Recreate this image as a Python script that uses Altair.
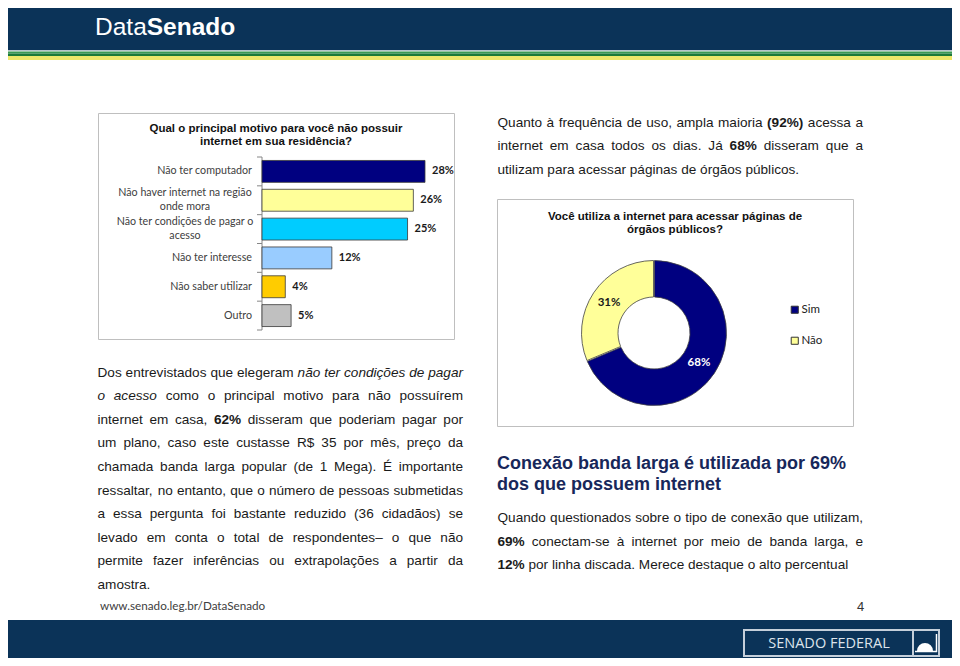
import altair as alt
import pandas as pd

# ---------------- data ----------------
reasons = [
    "Não ter computador",
    "Não haver internet na região\nonde mora",
    "Não ter condições de pagar o\nacesso",
    "Não ter interesse",
    "Não saber utilizar",
    "Outro",
]
reason_pct = [28, 26, 25, 12, 4, 5]

use_answers = ["Sim", "Não"]
use_pct = [68, 31]

# ---------------- styles ----------------
reason_colors = ["#000080", "#FFFF99", "#00CCFF", "#99CCFF", "#FFCC00", "#C0C0C0"]
answer_colors = ["#000080", "#FFFF99"]
NAVY = "#0B3358"
BODY = "#1a1a1a"
OFF = 8  # page margin


def P(v):
    return v - OFF


one = pd.DataFrame({"a": [0]})


def rect(x1, y1, x2, y2, **kw):
    return alt.Chart(one).mark_rect(**kw).encode(
        x=alt.value(P(x1)), x2=alt.value(P(x2)), y=alt.value(P(y1)), y2=alt.value(P(y2))
    )


# ---------------- Arial metrics for text layout ----------------
W_REG = {' ': 278, '!': 278, '$': 556, '%': 889, '(': 333, ')': 333, ',': 278, '-': 333,
         '.': 278, '/': 278, ':': 278, '?': 556, '–': 556, 'í': 278}
for d in "0123456789":
    W_REG[d] = 556
W_REG.update(dict(zip("abcdefghijklmnopqrstuvwxyz",
                      [556, 556, 500, 556, 556, 278, 556, 556, 222, 222, 500, 222, 833, 556, 556,
                       556, 556, 333, 500, 278, 556, 500, 722, 500, 500, 500])))
W_REG.update(dict(zip("ABCDEFGHIJKLMNOPQRSTUVWXYZ",
                      [667, 667, 722, 722, 667, 611, 778, 722, 278, 500, 667, 556, 833, 722, 778,
                       667, 778, 722, 667, 611, 722, 667, 944, 667, 667, 611])))
W_BOLD = {' ': 278, '%': 889, '(': 333, ')': 333, 'S': 667, 'D': 722}
for d in "0123456789":
    W_BOLD[d] = 556
W_BOLD.update(dict(zip("abcdefghijklmnopqrstuvwxyz",
                       [556, 611, 556, 611, 556, 333, 611, 611, 278, 278, 556, 278, 889, 611, 611,
                        611, 611, 389, 556, 333, 611, 556, 778, 556, 556, 500])))
ACC = {'à': 'a', 'á': 'a', 'â': 'a', 'ã': 'a', 'ç': 'c', 'é': 'e', 'ê': 'e', 'ó': 'o',
       'ô': 'o', 'õ': 'o', 'ú': 'u', 'É': 'E'}


def tw(s, size, bold=False):
    tab = W_BOLD if bold else W_REG
    tot = 0
    for ch in s:
        if ch not in tab:
            ch = ACC.get(ch, ch)
        tot += tab.get(ch, 556)
    return tot * size / 1000.0


rows = []


def parse(line):
    out = []
    for w in line.split(" "):
        if w.startswith("**") and w.endswith("**"):
            out.append((w[2:-2], "bold"))
        elif w.startswith("_") and w.endswith("_") and len(w) > 1:
            out.append((w[1:-1], "italic"))
        else:
            out.append((w, "normal"))
    return out


def add_par(x0, y0, step, width, lines, size=13.6, color=BODY):
    for k, line in enumerate(lines):
        toks = parse(line)
        last = k == len(lines) - 1
        ws = [tw(t, size, s == "bold") for t, s in toks]
        if last or len(toks) < 2:
            gap = tw(" ", size)
        else:
            gap = (width - sum(ws)) / (len(toks) - 1)
        x = x0
        for (t, s), w in zip(toks, ws):
            rows.append(dict(x=P(x), y=P(y0 + k * step), text=t, style=s, size=size, color=color))
            x += w + gap


add_par(497.5, 126.5, 23.6, 365.5, [
    "Quanto à frequência de uso, ampla maioria **(92%)** acessa a",
    "internet em casa todos os dias. Já **68%** disseram que a",
    "utilizam para acessar páginas de órgãos públicos.",
])
add_par(97.5, 376.5, 23.6, 365.5, [
    "Dos entrevistados que elegeram _não_ _ter_ _condições_ _de_ _pagar_",
    "_o_ _acesso_ como o principal motivo para não possuírem",
    "internet em casa, **62%** disseram que poderiam pagar por",
    "um plano, caso este custasse R$ 35 por mês, preço da",
    "chamada banda larga popular (de 1 Mega). É importante",
    "ressaltar, no entanto, que o número de pessoas submetidas",
    "a essa pergunta foi bastante reduzido (36 cidadãos) se",
    "levado em conta o total de respondentes– o que não",
    "permite fazer inferências ou extrapolações a partir da",
    "amostra.",
])
add_par(497.5, 522, 23.6, 365.5, [
    "Quando questionados sobre o tipo de conexão que utilizam,",
    "**69%** conectam-se à internet por meio de banda larga, e",
    "**12%** por linha discada. Merece destaque o alto percentual",
])
# heading
rows.append(dict(x=P(497), y=P(469.3), text="Conexão banda larga é utilizada por 69%", style="bold", size=18, color="#17275A"))
rows.append(dict(x=P(497), y=P(489.5), text="dos que possuem internet", style="bold", size=18, color="#17275A"))
# header brand
rows.append(dict(x=P(95), y=P(34.5), text="Data", style="normal", size=24.5, color="white"))
rows.append(dict(x=P(95) + tw("Data", 24.5), y=P(34.5), text="Senado", style="bold", size=24.5, color="white"))
# page number
rows.append(dict(x=P(857), y=P(611), text="4", style="normal", size=13, color="#333333"))

words = pd.DataFrame(rows)


def text_layer(style, **kw):
    return alt.Chart(words).transform_filter(alt.datum.style == style).mark_text(
        font="Liberation Sans", align="left", baseline="alphabetic", **kw
    ).encode(
        x=alt.X("x:Q", scale=None, axis=None),
        y=alt.Y("y:Q", scale=None, axis=None),
        text="text:N",
        size=alt.Size("size:Q", scale=None, legend=None),
        color=alt.Color("color:N", scale=None, legend=None),
    )


titles = pd.DataFrame({
    "x": [P(276), P(276), P(675), P(675)],
    "y": [P(131.5), P(145), P(219.5), P(232.5)],
    "text": ["Qual o principal motivo para você não possuir", "internet em sua residência?",
             "Você utiliza a internet para acessar páginas de", "órgãos públicos?"],
})
title_layer = alt.Chart(titles).mark_text(
    font="Liberation Sans", fontWeight="bold", fontSize=11.5, align="center",
    baseline="alphabetic", color="#111111"
).encode(x=alt.X("x:Q", scale=None, axis=None), y=alt.Y("y:Q", scale=None, axis=None), text="text:N")

# ---------------- bar chart ----------------
bars = pd.DataFrame({"cat": reasons, "pct": reason_pct})
bars["i"] = range(len(bars))
bars["y0"] = bars["i"] + 0.12
bars["y1"] = bars["i"] + 0.88
bars["ym"] = bars["i"] + 0.5
bars["label"] = [f"{v}%" for v in reason_pct]
bars["multi"] = bars["cat"].str.contains("\n")

xs = alt.Scale(domain=[0, max(reason_pct)], range=[P(262), P(425)])
ys = alt.Scale(domain=[0, len(reasons)], range=[P(157), P(330)])

bar_layer = alt.Chart(bars).mark_rect(stroke="#3a3a3a", strokeWidth=0.8).encode(
    x=alt.X("pct:Q", scale=xs, axis=None),
    x2=alt.datum(0),
    y=alt.Y("y0:Q", scale=ys, axis=None),
    y2="y1:Q",
    fill=alt.Fill("cat:N", scale=alt.Scale(domain=reasons, range=reason_colors), legend=None),
)
val_layer = alt.Chart(bars).mark_text(
    align="left", baseline="middle", dx=7, font="Lato", fontWeight="bold", fontSize=11, color="#1a1a1a"
).encode(x=alt.X("pct:Q", scale=xs, axis=None), y=alt.Y("ym:Q", scale=ys, axis=None), text="label:N")

lab_single = alt.Chart(bars[~bars["multi"]]).mark_text(
    align="right", baseline="middle", font="Lato", fontSize=10.7, color="#404040"
).encode(x=alt.value(P(252)), y=alt.Y("ym:Q", scale=ys, axis=None), text="cat:N")
lab_multi = alt.Chart(bars[bars["multi"]]).mark_text(
    align="center", baseline="middle", font="Lato", fontSize=10.7, color="#404040",
    lineBreak="\n", lineHeight=14, dy=-7
).encode(x=alt.value(P(185)), y=alt.Y("ym:Q", scale=ys, axis=None), text="cat:N")

bounds = pd.DataFrame({"b": list(range(len(reasons) + 1))})
tick_layer = alt.Chart(bounds).mark_rule(color="#868686").encode(
    x=alt.value(P(257)), x2=alt.value(P(262)), y=alt.Y("b:Q", scale=ys, axis=None)
)
axis_line = alt.Chart(one).mark_rule(color="#868686").encode(
    x=alt.value(P(262)), y=alt.value(P(157)), y2=alt.value(P(330))
)

# ---------------- donut ----------------
donut = pd.DataFrame({"answer": use_answers, "value": use_pct, "order": list(range(len(use_answers)))})
donut["label"] = [f"{v}%" for v in use_pct]
CX, CY = P(654), P(333)
arc_layer = alt.Chart(donut).mark_arc(stroke="#404040", strokeWidth=0.8, padAngle=0.012).encode(
    theta=alt.Theta("value:Q", stack=True),
    order=alt.Order("order:Q"),
    color=alt.Color("answer:N", scale=alt.Scale(domain=use_answers, range=answer_colors),
                    legend=alt.Legend(title=None, orient="none", legendX=P(789), legendY=P(304),
                                      symbolType="square", symbolSize=50, symbolStrokeColor="#333333",
                                      symbolStrokeWidth=1, labelFont="Lato", labelFontSize=11.5,
                                      labelColor="#222222", rowPadding=18, labelOffset=1)),
    x=alt.value(CX), y=alt.value(CY),
    radius=alt.value(72.5), radius2=alt.value(36),
)
arc_text = alt.Chart(donut).mark_text(radius=54, font="Lato", fontWeight="bold", fontSize=11.5).encode(
    theta=alt.Theta("value:Q", stack=True),
    order=alt.Order("order:Q"),
    text="label:N",
    x=alt.value(CX), y=alt.value(CY),
    color=alt.condition(alt.datum.answer == "Sim", alt.value("white"), alt.value("#1a1a1a")),
)

# ---------------- decoration ----------------
W_, H_ = 944, 650
LY = -6  # logo lifted so it stays inside the drawing
deco = [
    rect(8, 0, 960, 50.5, color=NAVY),
    rect(8, 50.5, 960, 51.5, color="#E8F0EC"),
    rect(8, 51.5, 960, 53.5, color="#3A9A55"),
    rect(8, 53.5, 960, 56, color="#1B7A3A"),
    rect(8, 56, 960, 60, color="#EEE86A"),
    rect(8, 620, 960, 666, color=NAVY),
    rect(98.5, 113.5, 454.5, 339.5, fill="white", stroke="#BFBFBF", strokeWidth=1),
    rect(497.5, 199.5, 853.5, 426.5, fill="white", stroke="#BFBFBF", strokeWidth=1),
    rect(744, 636 + LY, 939, 662 + LY, fill=NAVY, stroke="#C5CFDA", strokeWidth=2),
    alt.Chart(one).mark_rule(color="#C5CFDA", strokeWidth=2).encode(
        x=alt.value(P(913)), y=alt.value(P(636 + LY)), y2=alt.value(P(662 + LY))),
    alt.Chart(one).mark_arc(color="white").encode(
        x=alt.value(P(925)), y=alt.value(P(657 + LY)), theta=alt.value(4.712), theta2=alt.value(7.854),
        radius=alt.value(8)),
    alt.Chart(one).mark_rule(color="white", strokeWidth=1.5).encode(
        x=alt.value(P(915)), x2=alt.value(P(937)), y=alt.value(P(657.5 + LY))),
    alt.Chart(one).mark_rule(color="white", strokeWidth=1.5).encode(
        x=alt.value(P(936.5)), y=alt.value(P(640 + LY)), y2=alt.value(P(658 + LY))),
    alt.Chart(one).mark_text(font="Open Sans", fontSize=14.5, color="#DDE4EC", align="center",
                             baseline="alphabetic").encode(
        x=alt.value(P(829)), y=alt.value(P(654 + LY)), text=alt.value("SENADO FEDERAL")),
    alt.Chart(one).mark_text(font="Lato", fontSize=11.7, color="#404040", align="left",
                             baseline="alphabetic").encode(
        x=alt.value(P(100)), y=alt.value(P(610)), text=alt.value("www.senado.leg.br/DataSenado")),
]

chart = alt.layer(
    *deco,
    title_layer,
    axis_line, tick_layer, bar_layer, val_layer, lab_single, lab_multi,
    arc_layer, arc_text,
    text_layer("normal"),
    text_layer("bold", fontWeight="bold"),
    text_layer("italic", fontStyle="italic"),
).resolve_scale(
    x="independent", y="independent", color="independent", size="independent"
).properties(
    width=W_, height=H_, autosize=alt.AutoSizeParams(type="none"), padding=0
).configure_view(stroke=None)

chart.save("out.html", embed_options={"renderer": "svg", "actions": False})
